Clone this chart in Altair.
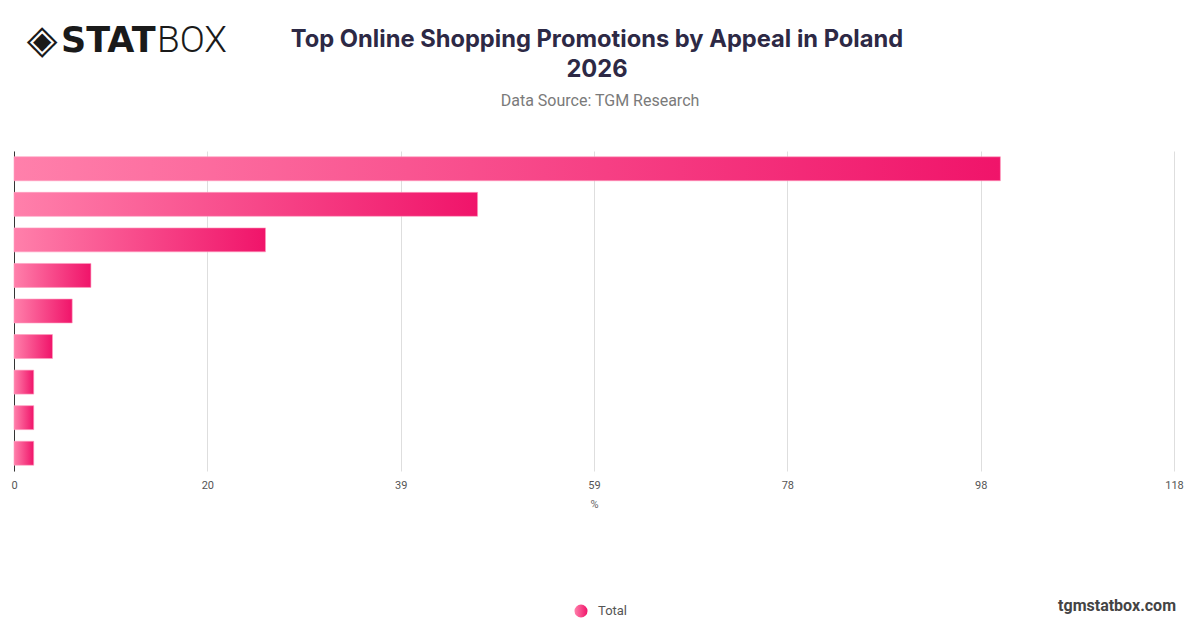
import altair as alt
import pandas as pd

categories = [
    "Free delivery",
    "Price discounts",
    "Buy one, get one free",
    "Loyalty points",
    "Cashback offers",
    "Free gifts",
    "Bundle deals",
    "Flash sales",
    "Other",
]
values = [100, 47.0, 25.5, 7.8, 5.9, 3.9, 2.0, 2.0, 2.0]
series_name = "Total"
x_ticks = [0, 19.6, 39.2, 58.8, 78.4, 98, 117.6]
x_max = 117.6

title_line1 = "Top Online Shopping Promotions by Appeal in Poland"
title_line2 = "2026"
subtitle = "Data Source: TGM Research"
footer = "tgmstatbox.com"

df = pd.DataFrame({"category": categories, "value": values, "series": series_name})

grad = alt.Gradient(
    gradient="linear",
    stops=[
        alt.GradientStop(color="#ff80ab", offset=0),
        alt.GradientStop(color="#f0146a", offset=1),
    ],
    x1=0, x2=1, y1=0, y2=0,
)

bars = alt.Chart(df).mark_bar(color=grad, stroke="#ff9ec0", strokeWidth=0.6).encode(
    x=alt.X(
        "value:Q",
        scale=alt.Scale(domain=[0, x_max], nice=False, zero=True),
        axis=alt.Axis(
            values=x_ticks,
            format=".0f",
            title="%",
            grid=True,
            gridColor="#dedede",
            domain=False,
            ticks=False,
            labelFlush=False,
            labelPadding=8,
            labelFontSize=11,
            labelColor="#555555",
            labelFont="Roboto",
            titleFont="Roboto",
            titleFontSize=11,
            titleFontWeight="normal",
            titleColor="#666666",
            titlePadding=8,
        ),
    ),
    y=alt.Y(
        "category:N",
        sort=None,
        scale=alt.Scale(paddingInner=0.326, paddingOuter=0.163),
        axis=alt.Axis(
            labels=False,
            ticks=False,
            grid=False,
            domain=True,
            domainColor="#333333",
            domainWidth=1,
            title=None,
        ),
    ),
    tooltip=["category:N", "value:Q"],
)


def label(text, x, y, size, weight="normal", color="#333333", align="center", font="Roboto"):
    return alt.Chart(alt.Data(values=[{"t": text}])).mark_text(
        align=align,
        baseline="middle",
        fontSize=size,
        fontWeight=weight,
        color=color,
        font=font,
    ).encode(text="t:N", x=alt.value(x), y=alt.value(y))


title1 = label(title_line1, 583, -111, 23.7, "bold", "#2d2945", font="Inter")
title2 = label(title_line2, 583, -81, 23.7, "bold", "#2d2945", font="Inter")
sub = label(subtitle, 586, -50, 16, "normal", "#7a7a7a")

logo_icon = label("\u25c8", 28, -110, 40, "normal", "#1a1a1a", font="DejaVu Sans")
logo_stat = label("STAT", 47, -110, 35, "bold", "#1a1a1a", align="left", font="DejaVu Sans")
logo_box = label("BOX", 143, -110, 37, 300, "#1a1a1a", align="left", font="Roboto")

legend_dot = alt.Chart(alt.Data(values=[{"s": series_name}])).mark_point(
    filled=True, shape="circle", size=170, color=grad, opacity=1
).encode(x=alt.value(567), y=alt.value(460))
legend_txt = label(series_name, 584, 460, 13, "normal", "#555555", align="left")

foot = label(footer, 1162, 455, 16, "bold", "#444444", align="right")

chart = alt.layer(
    bars, title1, title2, sub, logo_icon, logo_stat, logo_box, legend_dot, legend_txt, foot
).properties(
    width=1160,
    height=320,
    padding={"left": 6, "top": 143, "right": 18, "bottom": 149},
    autosize=alt.AutoSizeParams(type="none"),
    background="white",
).configure_view(stroke=None)

chart.save("out.html", embed_options={"renderer": "svg", "actions": False})
